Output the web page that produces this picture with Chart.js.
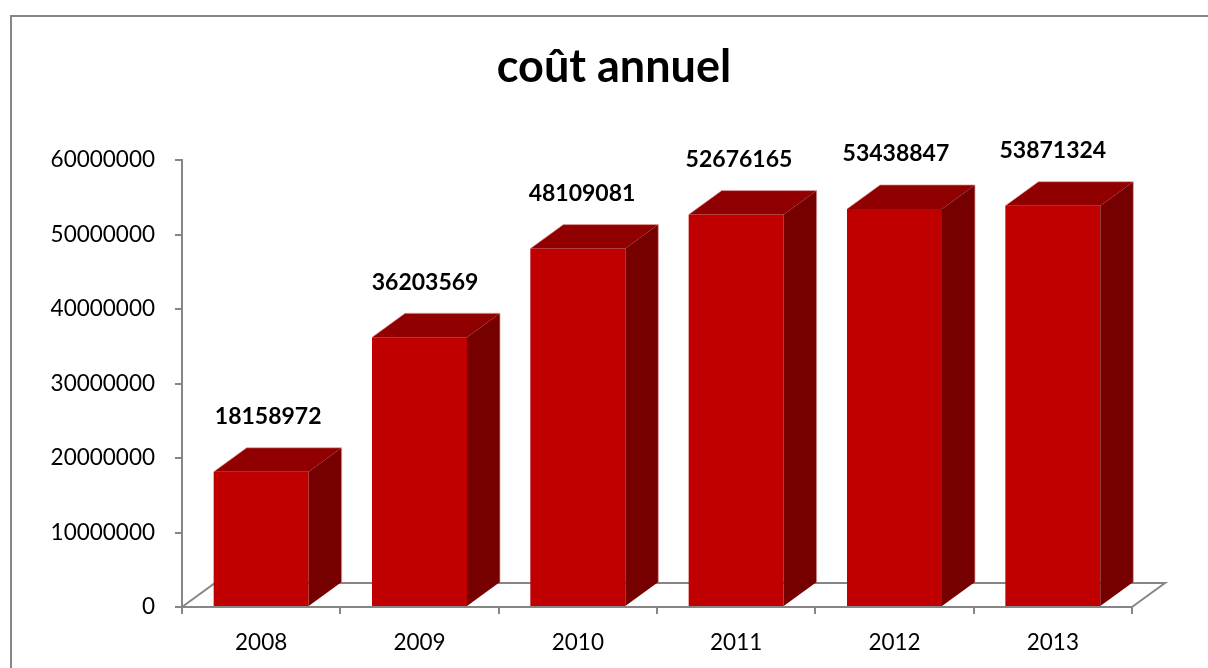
<!DOCTYPE html>
<html>
<head>
<meta charset="utf-8">
<script src="https://cdn.jsdelivr.net/npm/chart.js@4"></script>
<style>
  html, body { margin: 0; padding: 0; background: #fff; overflow: hidden; }
  #wrap { width: 1208px; height: 668px; }
</style>
</head>
<body>
<div id="wrap"><canvas id="costChart" width="1208" height="668"></canvas></div>
<script>
const years = ["2008", "2009", "2010", "2011", "2012", "2013"];
const costs = [18158972, 36203569, 48109081, 52676165, 53438847, 53871324];
const chartTitle = "coût annuel";
const yMax = 60000000;
const yStep = 10000000;

const axisGrey = "#868686";
const frontRed = "#c00000";
const topRed = "#900000";
const sideRed = "#760000";
const depth = { x: 33, y: -24 };

// outer frame, title and floor of the 3d box
const floorPlugin = {
    id: "floor",
    beforeDraw(chart) {
        const ctx = chart.ctx;
        ctx.save();
        ctx.strokeStyle = axisGrey;
        ctx.lineWidth = 2;
        ctx.strokeRect(11, 16, 2000, 1000);
        ctx.fillStyle = "#000";
        ctx.font = "bold 45px Lato";
        ctx.textAlign = "center";
        ctx.textBaseline = "alphabetic";
        ctx.fillText(chartTitle, 614, 82);
        ctx.restore();
    },
    beforeDatasetsDraw(chart) {
        const { ctx, chartArea } = chart;
        const l = chartArea.left, r = chartArea.right, b = chartArea.bottom;
        ctx.save();
        ctx.strokeStyle = axisGrey;
        ctx.lineWidth = 2;
        ctx.beginPath();
        ctx.moveTo(l, b);
        ctx.lineTo(l + depth.x, b + depth.y);
        ctx.lineTo(r + depth.x, b + depth.y);
        ctx.lineTo(r, b);
        ctx.stroke();
        ctx.restore();
    },
};

// top and side faces, then the value labels
const boxPlugin = {
    id: "box3d",
    afterDatasetsDraw(chart) {
        const ctx = chart.ctx;
        const meta = chart.getDatasetMeta(0);
        ctx.save();
        meta.data.forEach((bar, i) => {
            const p = bar.getProps(["x", "y", "width", "base"], true);
            const x0 = p.x - p.width / 2, x1 = p.x + p.width / 2;
            const top = p.y, base = p.base;

            ctx.fillStyle = topRed;
            ctx.beginPath();
            ctx.moveTo(x0, top);
            ctx.lineTo(x1, top);
            ctx.lineTo(x1 + depth.x, top + depth.y);
            ctx.lineTo(x0 + depth.x, top + depth.y);
            ctx.closePath();
            ctx.fill();

            ctx.fillStyle = sideRed;
            ctx.beginPath();
            ctx.moveTo(x1, top);
            ctx.lineTo(x1 + depth.x, top + depth.y);
            ctx.lineTo(x1 + depth.x, base + depth.y);
            ctx.lineTo(x1, base);
            ctx.closePath();
            ctx.fill();

            ctx.strokeStyle = "rgba(230,160,160,0.7)";
            ctx.lineWidth = 1;
            ctx.beginPath();
            ctx.moveTo(x0, top);
            ctx.lineTo(x0 + depth.x, top + depth.y);
            ctx.lineTo(x1 + depth.x, top + depth.y);
            ctx.lineTo(x1 + depth.x, base + depth.y);
            ctx.stroke();

            // labels drift slightly with the perspective
            const shift = (costs.length - 1 - i) * 1.4;
            ctx.fillStyle = "#000";
            ctx.font = "bold 23px Lato";
            ctx.textAlign = "center";
            ctx.textBaseline = "middle";
            ctx.fillText(String(costs[i]), p.x + shift, top - 55);
        });
        ctx.restore();
    },
};

new Chart(document.getElementById("costChart"), {
    type: "bar",
    data: {
        labels: years,
        datasets: [
            {
                label: chartTitle,
                data: costs,
                backgroundColor: frontRed,
                borderWidth: 0,
                categoryPercentage: 1,
                barPercentage: 0.6,
            },
        ],
    },
    options: {
        responsive: false,
        animation: false,
        layout: { padding: { left: 20, right: 76, top: 160, bottom: 0 } },
        plugins: {
            legend: { display: false },
            tooltip: { enabled: false },
            title: { display: false },
        },
        scales: {
            x: {
                grid: { display: true, drawOnChartArea: false, offset: true, color: axisGrey, lineWidth: 2, tickLength: 7 },
                border: { display: true, color: axisGrey, width: 2 },
                ticks: { color: "#000", font: { family: "Lato", size: 22.5 }, padding: 15, maxRotation: 0 },
                afterFit(scale) { scale.height = 61; },
            },
            y: {
                min: 0,
                max: yMax,
                grid: { display: true, drawOnChartArea: false, color: axisGrey, lineWidth: 2, tickLength: 7 },
                border: { display: true, color: axisGrey, width: 2 },
                ticks: {
                    stepSize: yStep,
                    color: "#000",
                    font: { family: "Lato", size: 22.5 },
                    padding: 20,
                    callback: (v) => String(v),
                },
                afterFit(scale) { scale.width = 162; },
            },
        },
    },
    plugins: [floorPlugin, boxPlugin],
});
</script>
</body>
</html>
